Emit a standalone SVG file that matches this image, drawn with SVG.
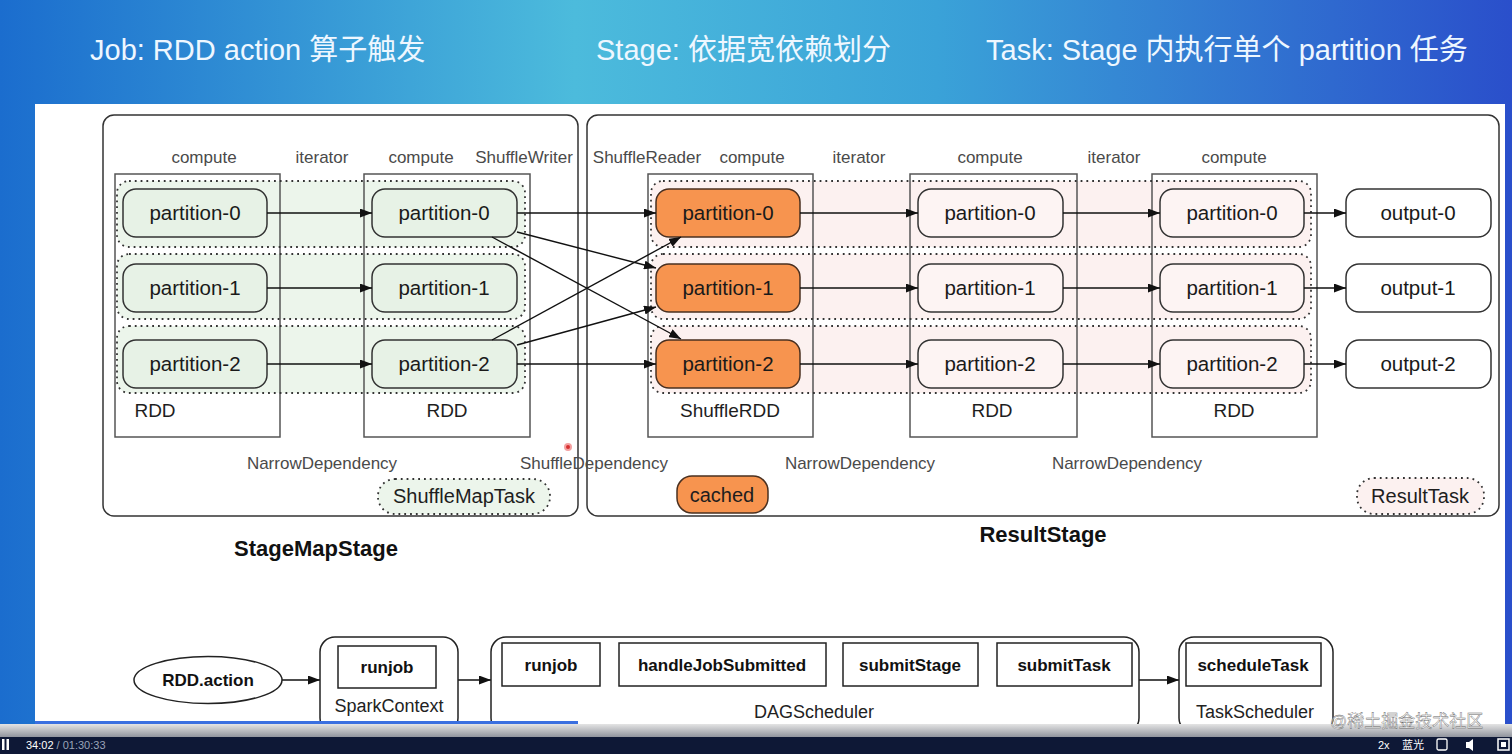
<svg xmlns="http://www.w3.org/2000/svg" width="1512" height="754" viewBox="0 0 1512 754">
<defs>
<linearGradient id="bg" x1="0" y1="0" x2="1" y2="0">
<stop offset="0" stop-color="#1b6dce"/>
<stop offset="0.38" stop-color="#4cbbdc"/>
<stop offset="0.62" stop-color="#3aa2d8"/>
<stop offset="1" stop-color="#2a4fcb"/>
</linearGradient>
<linearGradient id="shade" x1="0" y1="0" x2="0" y2="1">
<stop offset="0" stop-color="#e4e4e4"/>
<stop offset="1" stop-color="#8a8e98"/>
</linearGradient>
<marker id="arr" viewBox="0 0 12 9" refX="12" refY="4.5" markerWidth="12" markerHeight="9" markerUnits="userSpaceOnUse" orient="auto">
<path d="M0,0 L12,4.5 L0,9 z" fill="#111"/>
</marker>
<style>
text{font-family:"Liberation Sans",Arial,"Noto Sans CJK SC",sans-serif}
.hdr{font-size:29px;fill:#eef7ff}
.lbl{font-size:17px;fill:#4a4a4a;text-anchor:middle}
.pt{font-size:20.5px;fill:#1a1a1a;text-anchor:middle}
.rdd{font-size:19px;fill:#1e1e1e;text-anchor:middle}
.stage{fill:none;stroke:#333;stroke-width:1.5}
.rddbox{fill:none;stroke:#555;stroke-width:1.5}
.bandG{fill:#ecf5eb}
.bandP{fill:#fcf1f0}
.dot{fill:none;stroke:#333;stroke-width:1.8;stroke-dasharray:1.8 4}
.pg{fill:#e7f2e6;stroke:#333;stroke-width:1.5}
.po{fill:#f7944f;stroke:#4a3020;stroke-width:1.5}
.pp{fill:#fdf4f3;stroke:#333;stroke-width:1.5}
.pw{fill:#fff;stroke:#333;stroke-width:1.5}
.big{font-size:22px;font-weight:bold;fill:#111;text-anchor:middle}
.tag{font-size:20px;fill:#1e1e1e;text-anchor:middle}
.conn line{stroke:#111;stroke-width:1.4;marker-end:url(#arr)}
.bx{fill:#fff;stroke:#222;stroke-width:1.5}
.bb{font-size:17px;font-weight:bold;fill:#111;text-anchor:middle}
.bn{font-size:18px;fill:#222;text-anchor:middle}
</style>
</defs>

<!-- background and slide -->
<rect x="0" y="0" width="1512" height="754" fill="url(#bg)"/>
<rect x="35" y="104" width="1470" height="622" fill="#ffffff"/>

<!-- header -->
<text class="hdr" x="90" y="60">Job: RDD action 算子触发</text>
<text class="hdr" x="596" y="60">Stage: 依据宽依赖划分</text>
<text class="hdr" x="986" y="60">Task: Stage 内执行单个 partition 任务</text>

<!-- stage frames -->
<g id="stageMapStage">
<rect class="stage" x="103" y="115" width="475" height="401" rx="11"/>
<text class="big" x="316" y="556">StageMapStage</text>
</g>
<g id="resultStage">
<rect class="stage" x="587" y="115" width="912" height="401" rx="11"/>
<text class="big" x="1043" y="542">ResultStage</text>
</g>

<!-- bands -->
<g id="bands">
<rect class="bandG" x="117" y="181" width="408" height="66" rx="12"/>
<rect class="bandG" x="117" y="254" width="408" height="65" rx="12"/>
<rect class="bandG" x="117" y="326" width="408" height="67" rx="12"/>
<rect class="bandP" x="651" y="181" width="660" height="66" rx="12"/>
<rect class="bandP" x="651" y="254" width="660" height="65" rx="12"/>
<rect class="bandP" x="651" y="326" width="660" height="67" rx="12"/>
</g>

<!-- RDD boxes -->
<g id="rdd1"><rect class="rddbox" x="115" y="174" width="165" height="263"/><text class="rdd" x="155" y="417">RDD</text></g>
<g id="rdd2"><rect class="rddbox" x="364" y="174" width="166" height="263"/><text class="rdd" x="447" y="417">RDD</text></g>
<g id="shuffleRDD"><rect class="rddbox" x="648" y="174" width="165" height="263"/><text class="rdd" x="730" y="417">ShuffleRDD</text></g>
<g id="rdd3"><rect class="rddbox" x="910" y="174" width="167" height="263"/><text class="rdd" x="992" y="417">RDD</text></g>
<g id="rdd4"><rect class="rddbox" x="1152" y="174" width="165" height="263"/><text class="rdd" x="1234" y="417">RDD</text></g>

<g id="bandOutlines">
<rect class="dot" x="117" y="181" width="408" height="66" rx="12"/>
<rect class="dot" x="117" y="254" width="408" height="65" rx="12"/>
<rect class="dot" x="117" y="326" width="408" height="67" rx="12"/>
<rect class="dot" x="651" y="181" width="660" height="66" rx="12"/>
<rect class="dot" x="651" y="254" width="660" height="65" rx="12"/>
<rect class="dot" x="651" y="326" width="660" height="67" rx="12"/>
</g>

<!-- labels -->
<g id="labels">
<text class="lbl" x="204" y="163">compute</text>
<text class="lbl" x="322" y="163">iterator</text>
<text class="lbl" x="421" y="163">compute</text>
<text class="lbl" x="524" y="163">ShuffleWriter</text>
<text class="lbl" x="647" y="163">ShuffleReader</text>
<text class="lbl" x="752" y="163">compute</text>
<text class="lbl" x="859" y="163">iterator</text>
<text class="lbl" x="990" y="163">compute</text>
<text class="lbl" x="1114" y="163">iterator</text>
<text class="lbl" x="1234" y="163">compute</text>
<text class="lbl" x="322" y="469">NarrowDependency</text>
<text class="lbl" x="594" y="469">ShuffleDependency</text>
<text class="lbl" x="860" y="469">NarrowDependency</text>
<text class="lbl" x="1127" y="469">NarrowDependency</text>
</g>

<!-- partitions -->
<g id="a0"><rect class="pg" x="123" y="189" width="144" height="48" rx="13"/><text class="pt" x="195" y="220">partition-0</text></g>
<g id="a1"><rect class="pg" x="123" y="264" width="144" height="48" rx="13"/><text class="pt" x="195" y="295">partition-1</text></g>
<g id="a2"><rect class="pg" x="123" y="340" width="144" height="48" rx="13"/><text class="pt" x="195" y="371">partition-2</text></g>
<g id="b0"><rect class="pg" x="372" y="189" width="145" height="48" rx="13"/><text class="pt" x="444" y="220">partition-0</text></g>
<g id="b1"><rect class="pg" x="372" y="264" width="145" height="48" rx="13"/><text class="pt" x="444" y="295">partition-1</text></g>
<g id="b2"><rect class="pg" x="372" y="340" width="145" height="48" rx="13"/><text class="pt" x="444" y="371">partition-2</text></g>
<g id="c0"><rect class="po" x="656" y="189" width="144" height="48" rx="13"/><text class="pt" x="728" y="220">partition-0</text></g>
<g id="c1"><rect class="po" x="656" y="264" width="144" height="48" rx="13"/><text class="pt" x="728" y="295">partition-1</text></g>
<g id="c2"><rect class="po" x="656" y="340" width="144" height="48" rx="13"/><text class="pt" x="728" y="371">partition-2</text></g>
<g id="d0"><rect class="pp" x="918" y="189" width="145" height="48" rx="13"/><text class="pt" x="990" y="220">partition-0</text></g>
<g id="d1"><rect class="pp" x="918" y="264" width="145" height="48" rx="13"/><text class="pt" x="990" y="295">partition-1</text></g>
<g id="d2"><rect class="pp" x="918" y="340" width="145" height="48" rx="13"/><text class="pt" x="990" y="371">partition-2</text></g>
<g id="e0"><rect class="pp" x="1160" y="189" width="144" height="48" rx="13"/><text class="pt" x="1232" y="220">partition-0</text></g>
<g id="e1"><rect class="pp" x="1160" y="264" width="144" height="48" rx="13"/><text class="pt" x="1232" y="295">partition-1</text></g>
<g id="e2"><rect class="pp" x="1160" y="340" width="144" height="48" rx="13"/><text class="pt" x="1232" y="371">partition-2</text></g>
<g id="out0"><rect class="pw" x="1346" y="189" width="145" height="48" rx="13"/><text class="pt" x="1418" y="220">output-0</text></g>
<g id="out1"><rect class="pw" x="1346" y="264" width="145" height="48" rx="13"/><text class="pt" x="1418" y="295">output-1</text></g>
<g id="out2"><rect class="pw" x="1346" y="340" width="145" height="48" rx="13"/><text class="pt" x="1418" y="371">output-2</text></g>

<!-- tags -->
<g id="shuffleMapTask"><rect x="378" y="479" width="172" height="35" rx="17" fill="#ecf5eb" stroke="#333" stroke-width="1.8" stroke-dasharray="1.8 4"/><text class="tag" x="464" y="503">ShuffleMapTask</text></g>
<g id="cached"><rect class="po" x="677" y="476" width="91" height="37" rx="15"/><text class="tag" x="722" y="502">cached</text></g>
<g id="resultTask"><rect x="1357" y="478" width="127" height="36" rx="17" fill="#fcf1f0" stroke="#333" stroke-width="1.8" stroke-dasharray="1.8 4"/><text class="tag" x="1420" y="503">ResultTask</text></g>

<!-- connectors -->
<g id="connectors" class="conn">
<line x1="267" y1="213" x2="372" y2="213"/>
<line x1="267" y1="288" x2="372" y2="288"/>
<line x1="267" y1="364" x2="372" y2="364"/>
<line x1="517" y1="213" x2="656" y2="213"/>
<line x1="517" y1="232" x2="656" y2="268"/>
<line x1="492" y1="237" x2="681" y2="339"/>
<line x1="492" y1="340" x2="681" y2="237"/>
<line x1="517" y1="345" x2="656" y2="307"/>
<line x1="517" y1="364" x2="656" y2="364"/>
<line x1="800" y1="213" x2="918" y2="213"/>
<line x1="800" y1="288" x2="918" y2="288"/>
<line x1="800" y1="364" x2="918" y2="364"/>
<line x1="1063" y1="213" x2="1160" y2="213"/>
<line x1="1063" y1="288" x2="1160" y2="288"/>
<line x1="1063" y1="364" x2="1160" y2="364"/>
<line x1="1304" y1="213" x2="1346" y2="213"/>
<line x1="1304" y1="288" x2="1346" y2="288"/>
<line x1="1304" y1="364" x2="1346" y2="364"/>
<line x1="282" y1="680" x2="320" y2="680"/>
<line x1="458" y1="680" x2="491" y2="680"/>
<line x1="1139" y1="680" x2="1179" y2="680"/>
</g>

<!-- cursor dot -->
<circle cx="568" cy="447" r="4" fill="#f4a0a0"/>
<circle cx="568" cy="447" r="2" fill="#d63030"/>

<!-- bottom flow -->
<g id="rddAction"><ellipse cx="208" cy="680" rx="74" ry="23.5" fill="#fff" stroke="#222" stroke-width="1.5"/><text class="bb" x="208" y="686" font-size="18">RDD.action</text></g>
<g id="sparkContext">
<rect class="bx" x="320" y="637" width="138" height="96" rx="15"/>
<rect class="bx" x="338" y="646" width="98" height="42"/>
<text class="bb" x="387" y="673">runjob</text>
<text class="bn" x="389" y="712">SparkContext</text>
</g>
<g id="dagScheduler">
<rect class="bx" x="491" y="637" width="648" height="96" rx="15"/>
<rect class="bx" x="502" y="643" width="98" height="43"/>
<text class="bb" x="551" y="671">runjob</text>
<rect class="bx" x="619" y="643" width="207" height="43"/>
<text class="bb" x="722" y="671">handleJobSubmitted</text>
<rect class="bx" x="843" y="643" width="135" height="43"/>
<text class="bb" x="910" y="671">submitStage</text>
<rect class="bx" x="997" y="643" width="135" height="43"/>
<text class="bb" x="1064" y="671">submitTask</text>
<text class="bn" x="814" y="718">DAGScheduler</text>
</g>
<g id="taskScheduler">
<rect class="bx" x="1179" y="637" width="154" height="96" rx="15"/>
<rect class="bx" x="1186" y="643" width="135" height="43"/>
<text class="bb" x="1253" y="671">scheduleTask</text>
<text class="bn" x="1255" y="718">TaskScheduler</text>
</g>

<!-- video player overlay -->
<rect x="0" y="724" width="1512" height="14" fill="url(#shade)"/>
<rect x="35" y="721" width="543" height="3" fill="#3a6fe0"/>
<rect x="0" y="737" width="1512" height="17" fill="#0e1836"/>
<rect x="2" y="739" width="2.5" height="11" fill="#fff"/>
<rect x="6.5" y="739" width="2.5" height="11" fill="#fff"/>
<text x="26" y="749" font-size="11" fill="#ffffff">34:02 <tspan fill="#9aa4b8">/ 01:30:33</tspan></text>
<text x="1330" y="727" font-size="17" fill="#ffffff" fill-opacity="0.75" stroke="#666" stroke-width="0.4">@稀土掘金技术社区</text>
<text x="1378" y="749" font-size="11" fill="#fff">2x</text>
<text x="1402" y="749" font-size="11" fill="#fff">蓝光</text>
<rect x="1437" y="739" width="10" height="11" rx="1.5" fill="none" stroke="#fff" stroke-width="1.3"/>
<path d="M1466,742 h3 l4,-3 v12 l-4,-3 h-3 z" fill="#fff"/>
<rect x="1498" y="739" width="11" height="11" fill="none" stroke="#fff" stroke-width="1.5"/>
<rect x="1501" y="742" width="5" height="5" fill="#fff"/>
</svg>
